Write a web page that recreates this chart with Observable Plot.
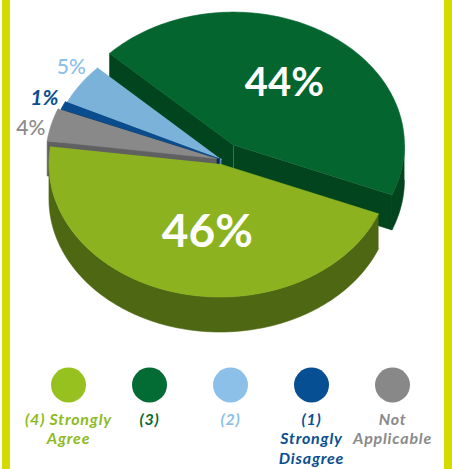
<!DOCTYPE html>
<html><head><meta charset="utf-8">
<script src="https://cdn.jsdelivr.net/npm/d3@7"></script>
<script src="https://cdn.jsdelivr.net/npm/@observablehq/plot@0.6"></script>
<style>
body{margin:0;background:#fff;}
#wrap{position:relative;width:452px;height:469px;overflow:hidden;font-family:Lato,sans-serif;background:#fff;}
.bar{position:absolute;top:0;height:469px;width:8px;background:#d3db00;z-index:2;}
#wrap svg{display:block;}
</style></head><body>
<div id="wrap"><div class="bar" style="left:2px"></div><div class="bar" style="left:444px"></div><div id="pie"></div><div id="legend"></div></div>
<script>
// ---- data ----
const categories = ["(4) Strongly Agree", "(3)", "(2)", "(1) Strongly Disagree", "Not Applicable"];
const legendLines = [["(4) Strongly", "Agree"], ["(3)"], ["(2)"], ["(1)", "Strongly", "Disagree"], ["Not", "Applicable"]];
const percents = [46, 44, 5, 1, 4];
const pieOrder = ["(4) Strongly Agree", "Not Applicable", "(1) Strongly Disagree", "(2)", "(3)"];

// ---- styles (per category) ----
const topColors = ["#8cb31f", "#04652f", "#7ab2d9", "#0a4d8e", "#898989"];
const sideColors = ["#4e6713", "#01441e", "#5b88b0", "#032b59", "#606060"];
const legendColors = ["#97c11f", "#036b34", "#8cc0e9", "#054f92", "#888888"];
const labelColors = ["#8dbb1f", "#046a32", "#8cc0e9", "#0a4f92", "#8a8a8a"];
const explode = [6, 22, 0, 2, 5];
const labelRadius = [0.52, 0.55, 1.12, 1.12, 1.11];
const labelAt = [0.46, 0.5, 0.71, 0.5, 0.29];

// ---- geometry ----
const W = 452, H = 360;
const C = [221, 159], RX = 171, RY = 133, DEPTH = 35, START = 22 * Math.PI / 180;
const total = d3.sum(percents);
let acc = START;
const slices = pieOrder.map(name => {
  const i = categories.indexOf(name);
  const span = percents[i] / total * 2 * Math.PI;
  const s = {i, name, t0: acc, t1: acc + span, tm: acc + span / 2};
  acc += span;
  s.cx = C[0] + explode[i] * Math.cos(s.tm);
  s.cy = C[1] + explode[i] * Math.sin(s.tm) * RY / RX;
  return s;
});
const P = (s, t, dz = 0) => [s.cx + RX * Math.cos(t), s.cy + RY * Math.sin(t) + dz];
const arc = (s, a, b, dz = 0) => {
  const n = Math.max(2, Math.ceil(Math.abs(b - a) / (Math.PI / 180)));
  return d3.range(n + 1).map(k => P(s, a + (b - a) * k / n, dz));
};

const rows = [];
let fid = 0;
function face(pts, fill) { const id = fid++; pts.forEach(([x, y]) => rows.push({id, x, y, fill})); }

const order = slices.slice().sort((a, b) => Math.sin(a.tm) - Math.sin(b.tm));
for (const s of order) {
  const side = sideColors[s.i], top = topColors[s.i];
  const apex = [s.cx, s.cy], apexB = [s.cx, s.cy + DEPTH];
  if (Math.cos(s.t0) < 0) face([apex, P(s, s.t0), P(s, s.t0, DEPTH), apexB], side);
  if (Math.cos(s.t1) > 0) face([apex, P(s, s.t1), P(s, s.t1, DEPTH), apexB], side);
  for (let k = -1; k <= 2; k++) {
    const lo = Math.max(s.t0, 2 * Math.PI * k), hi = Math.min(s.t1, 2 * Math.PI * k + Math.PI);
    if (hi > lo) face([...arc(s, lo, hi), ...arc(s, hi, lo, DEPTH)], side);
  }
  face([apex, ...arc(s, s.t0, s.t1)], top);
}

const labels = slices.map(s => {
  const f = labelRadius[s.i];
  const t = s.t0 + (s.t1 - s.t0) * labelAt[s.i];
  return {i: s.i, x: s.cx + f * RX * Math.cos(t), y: s.cy + f * RY * Math.sin(t), text: percents[s.i] + "%"};
});
const lab = i => labels.filter(d => d.i === i);

const pie = Plot.plot({
  width: W, height: H, margin: 0,
  x: {domain: [0, W], range: [0, W], axis: null},
  y: {domain: [0, H], range: [0, H], axis: null},
  color: {type: "identity"},
  marks: [
    Plot.line(rows, {x: "x", y: "y", z: "id", fill: "fill", stroke: "fill", strokeWidth: 0.6, curve: "linear"}),
    Plot.text(lab(0), {x: "x", y: "y", text: "text", fill: "white", fontSize: 46, fontWeight: 700, fontFamily: "Lato"}),
    Plot.text(lab(1), {x: "x", y: "y", text: "text", fill: "white", fontSize: 40, fontWeight: 700, fontFamily: "Lato"}),
    Plot.text(lab(2), {x: "x", y: "y", text: "text", fill: labelColors[2], fontSize: 21, fontWeight: 500, fontFamily: "Lato"}),
    Plot.text(lab(3), {x: "x", y: "y", text: "text", fill: labelColors[3], fontSize: 21, fontWeight: 700, fontStyle: "italic", fontFamily: "Lato"}),
    Plot.text(lab(4), {x: "x", y: "y", text: "text", fill: labelColors[4], fontSize: 21, fontWeight: 500, fontFamily: "Lato"})
  ]
});
document.getElementById("pie").append(pie);

const legendRows = legendLines.map((lines, i) => ({cat: categories[i], text: lines.join("\n"), color: labelColors[i]}));
const legend = Plot.plot({
  width: W, height: 469 - H, margin: 0,
  x: {type: "point", domain: categories, range: [67, 393], padding: 0, axis: null},
  y: {domain: [0, 469 - H], range: [0, 469 - H], axis: null},
  color: {type: "identity"},
  marks: [
    Plot.dot(categories, {x: d => d, y: () => 24.5, r: 17.5, fill: (d, i) => legendColors[i]}),
    Plot.text(legendRows, {x: "cat", y: () => 50.5, text: "text", fill: "color", lineAnchor: "top", lineHeight: 19.5 / 16, fontSize: 16, fontWeight: 700, fontStyle: "italic", fontFamily: "Lato"})
  ]
});
d3.select(legend).selectAll("text").attr("letter-spacing", "0.8px");
document.getElementById("legend").append(legend);
</script>
</body></html>
